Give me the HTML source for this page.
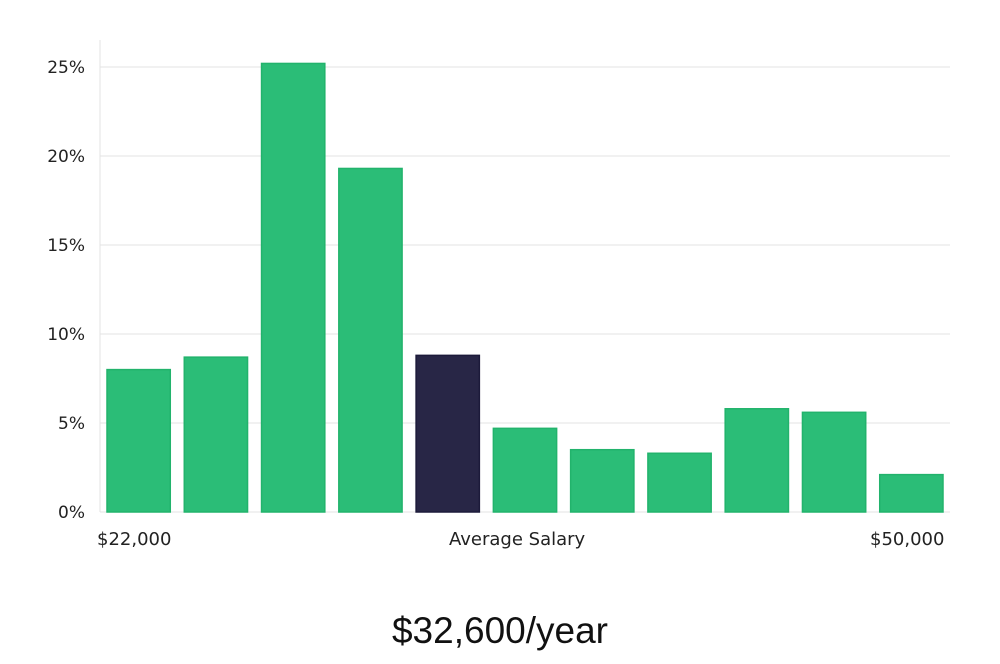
<!DOCTYPE html>
<html><head><meta charset="utf-8"><style>
body{margin:0;background:#fff;width:1000px;height:660px;overflow:hidden;font-family:"DejaVu Sans","Liberation Sans",sans-serif}
</style></head><body>
<svg width="1000" height="660" id="chart"></svg>
<script>
const categories=["b1","b2","b3","b4","b5","b6","b7","b8","b9","b10","b11"];
const values=[8.0,8.7,25.2,19.3,8.8,4.7,3.5,3.3,5.8,5.6,2.1];
const highlight=[false,false,false,false,true,false,false,false,false,false,false];
const yTicks=[0,5,10,15,20,25];
const yTickLabels=["0%","5%","10%","15%","20%","25%"];
const svg=document.getElementById('chart');
const NS="http://www.w3.org/2000/svg";
const x0=100,x1=950,yBase=512,yTop=67;
const y=v=>yBase-(v/25)*(yBase-yTop);
const slot=(x1-x0)/categories.length;
const xs=i=>x0+i*slot;
function mk(t,a,p){const e=document.createElementNS(NS,t);for(const k in a)e.setAttribute(k,a[k]);(p||svg).appendChild(e);return e;}
yTicks.forEach((t,i)=>{
 const l=mk('line',{x1:x0,x2:x1,y1:y(t),y2:y(t),stroke:'#e3e3e3','stroke-width':1});
 
 
 const tx=mk('text',{x:85,y:y(t)+6,'text-anchor':'end','font-size':17,fill:'#222'});
 tx.textContent=yTickLabels[i];
 
 
});
const ax=mk('line',{x1:x0,x2:x0,y1:40,y2:yBase,stroke:'#e3e3e3','stroke-width':1});


values.forEach((v,i)=>{
 const hl=highlight[i];
 const r=mk('rect',{x:xs(i)+7,y:y(v),width:slot-14,height:yBase-y(v),fill:hl?'#282646':'#2bbd77',stroke:hl?'#1c1a3a':'#22b36c','stroke-width':1.5});
 
 
});
</script>
<div style="position:absolute;left:97px;top:529px;font-size:18px;color:#222">$22,000</div>
<div style="position:absolute;left:449px;top:529px;font-size:18px;color:#222">Average Salary</div>
<div style="position:absolute;left:870px;top:529px;font-size:18px;color:#222">$50,000</div>
<div style="position:absolute;left:0;width:1000px;text-align:center;top:610px;font-size:37px;color:#111;font-family:'Liberation Sans',sans-serif;font-weight:300">$32,600/year</div>
</body></html>
